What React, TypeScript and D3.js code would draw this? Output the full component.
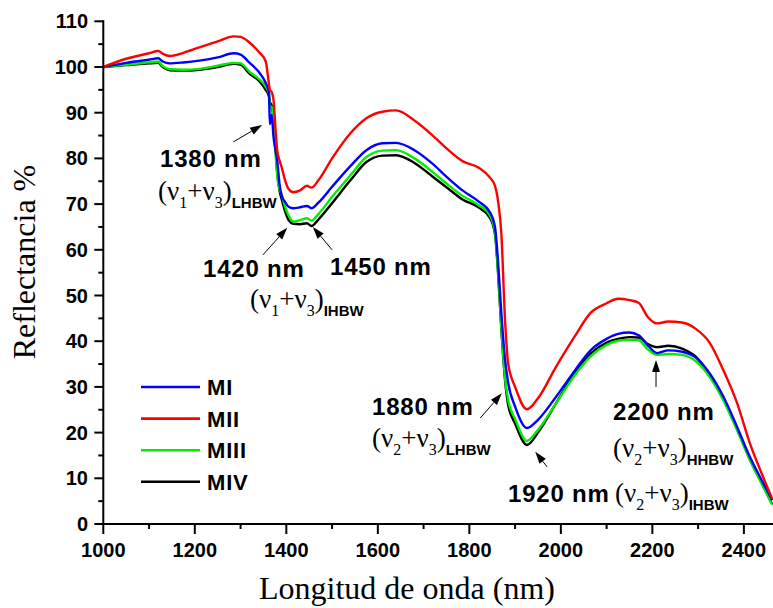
import React from "react";
import * as d3 from "d3";

const wavelengths = [1000, 1050, 1100, 1120, 1130, 1145, 1175, 1210, 1250, 1285, 1300, 1320, 1340, 1355, 1362, 1364, 1368, 1372, 1376, 1380, 1385, 1390, 1397, 1405, 1415, 1430, 1445, 1455, 1470, 1500, 1540, 1575, 1610, 1640, 1680, 1720, 1750, 1785, 1820, 1845, 1856, 1863, 1870, 1878, 1885, 1900, 1926, 1950, 1990, 2030, 2065, 2100, 2125, 2150, 2170, 2190, 2210, 2235, 2265, 2295, 2325, 2355, 2385, 2413, 2442, 2462];

const mI = [100, 100.9, 101.6, 101.9, 101.2, 100.8, 101.0, 101.4, 102.1, 103.0, 102.7, 100.9, 98.9, 96.5, 94.5, 87.5, 89.5, 84.7, 82, 79.6, 74.5, 71.8, 70.5, 69.4, 69.1, 69.3, 69.6, 69.1, 70.3, 73.8, 78.3, 81.8, 83.3, 83.4, 81.8, 78.8, 76.0, 73.0, 70.6, 68.2, 65, 57, 46, 36, 30.8, 25.7, 21.0, 22.8, 27.9, 33.5, 38.0, 40.5, 41.6, 41.9, 41.3, 39.1, 37.4, 38.0, 37.7, 36.4, 33.0, 27.9, 21.3, 14.7, 9.0, 5.2];

const mII = [100, 101.8, 103.0, 103.5, 102.9, 102.4, 103.1, 104.3, 105.6, 106.7, 106.6, 105.3, 103.3, 101.2, 96.3, 95.0, 94.5, 92.8, 87, 81.8, 79.6, 78, 75.3, 73.3, 72.6, 73.0, 74.0, 73.6, 75.2, 80.0, 85.5, 88.8, 90.2, 90.5, 88.3, 85.0, 82.2, 79.4, 78.0, 75.8, 74.0, 70.5, 63.5, 44.6, 35, 30, 25.1, 27.5, 34.5, 41, 46.2, 48.3, 49.3, 49.0, 48.4, 45.3, 43.9, 44.3, 44.1, 42.7, 39.7, 33.7, 26.5, 17.7, 10.3, 5.5];

const mIII = [100, 100.5, 101.0, 101.2, 100.2, 99.5, 99.4, 99.6, 100.3, 100.9, 100.8, 98.9, 97.4, 95.7, 94.3, 91, 91.3, 89, 82, 76.5, 73.3, 72, 69.5, 67.5, 66.2, 66.5, 66.9, 66.4, 67.8, 71.6, 76.3, 80.3, 81.7, 81.8, 80.0, 77.0, 74.5, 71.8, 69.8, 67.5, 64, 55, 43, 32, 27, 23, 18.2, 20.6, 26.5, 32.5, 36.7, 39.2, 40.1, 40.3, 40.2, 38.2, 37.0, 37.2, 37.0, 35.6, 32.2, 27.1, 20.6, 14.0, 8.2, 4.2];

const mIV = [100, 100.4, 100.8, 100.9, 100.0, 99.3, 99.2, 99.4, 100.0, 100.7, 100.5, 98.5, 97.0, 95.0, 93.6, 92.4, 91.5, 88.5, 83, 77, 73, 71, 68.5, 66.5, 65.7, 65.6, 65.8, 65.2, 66.6, 70.2, 75.2, 79.2, 80.6, 80.7, 79.0, 76.0, 73.7, 71.0, 69.3, 67.0, 63.5, 54.5, 42.5, 31.5, 26, 22, 17.3, 20.0, 26.5, 33, 37.3, 39.7, 40.5, 40.9, 40.8, 39.4, 38.7, 39.0, 38.4, 36.6, 32.6, 27.4, 20.8, 14.2, 8.4, 4.3];

const seriesNames = ["MI", "MII", "MIII", "MIV"];
const seriesColors = ["#0000ff", "#ff0000", "#00ee00", "#000000"];
const seriesValues = [mI, mII, mIII, mIV];
const drawOrder = [3, 2, 0, 1];

const xMajorTicks = [1000, 1200, 1400, 1600, 1800, 2000, 2200, 2400];
const xMinorTicks = [1100, 1300, 1500, 1700, 1900, 2100, 2300];
const yMajorTicks = [0, 10, 20, 30, 40, 50, 60, 70, 80, 90, 100, 110];
const yMinorTicks = [5, 15, 25, 35, 45, 55, 65, 75, 85, 95, 105];

// arrows: [nm, value]
const arrowTails = [[1284, 83.6], [1349, 58.9], [1500, 60.0], [1824, 23.2], [1970, 12.5], [2208, 30]];
const arrowTips = [[1347, 87.3], [1402, 64.8], [1458, 65.0], [1871, 28.6], [1944, 15.8], [2208, 35.9]];

const W = 773;
const H = 608;

const x = d3.scaleLinear().domain([1000, 2463]).range([103.3, 772.7]);
const y = d3.scaleLinear().domain([0, 110]).range([524, 21.3]);

const SANS = "'Liberation Sans', Arial, sans-serif";
const SERIF = "'Liberation Serif', 'Times New Roman', serif";

function Arrow({ tail, tip }: { tail: number[]; tip: number[] }) {
  const x0 = x(tail[0]), y0 = y(tail[1]);
  const x1 = x(tip[0]), y1 = y(tip[1]);
  const ang = Math.atan2(y1 - y0, x1 - x0);
  const L = 12, hw = 4;
  const bx = x1 - L * Math.cos(ang), by = y1 - L * Math.sin(ang);
  const px = -Math.sin(ang) * hw, py = Math.cos(ang) * hw;
  return (
    <g>
      <line x1={x0} y1={y0} x2={bx} y2={by} stroke="#000" strokeWidth={1} />
      <polygon points={`${x1},${y1} ${bx + px},${by + py} ${bx - px},${by - py}`} fill="#000" />
    </g>
  );
}

function NuLabel({ xp, yp, a, b, sub }: { xp: number; yp: number; a: string; b: string; sub: string }) {
  return (
    <text x={xp} y={yp} fontFamily={SERIF} fontSize={27} fill="#000">
      (ν
      <tspan fontSize={16} dy={8}>{a}</tspan>
      <tspan dy={-8}>+ν</tspan>
      <tspan fontSize={16} dy={8}>{b}</tspan>
      <tspan dy={-8}>)</tspan>
      <tspan dy={8} fontFamily={SANS} fontWeight="bold" fontSize={15}>{sub}</tspan>
    </text>
  );
}

function BoldLabel({ xp, yp, t }: { xp: number; yp: number; t: string }) {
  return (
    <text x={xp} y={yp} fontFamily={SANS} fontWeight="bold" fontSize={24} letterSpacing={0.8} fill="#000">{t}</text>
  );
}

export default function App() {
  const line = d3
    .line<number>()
    .x((_, i) => x(wavelengths[i]))
    .y((d) => y(d))
    .curve(d3.curveMonotoneX);

  return (
    <svg width={W} height={H} style={{ position: "absolute", left: 0, top: 0, background: "#fff" }}>
      <defs>
        <clipPath id="plotclip">
          <rect x={103} y={0} width={W - 103} height={526} />
        </clipPath>
      </defs>

      <g clipPath="url(#plotclip)">
        {drawOrder.map((i) => (
          <path key={i} d={line(seriesValues[i]) || ""} fill="none" stroke={seriesColors[i]} strokeWidth={2.4} strokeLinejoin="round" />
        ))}
      </g>

      <line x1={x(1000)} y1={y(0)} x2={W} y2={y(0)} stroke="#000" strokeWidth={2} />
      <line x1={x(1000)} y1={y(0) + 1} x2={x(1000)} y2={y(110) - 1} stroke="#000" strokeWidth={2} />
      {xMajorTicks.map((t) => (
        <g key={"xm" + t}>
          <line x1={x(t)} x2={x(t)} y1={y(0)} y2={y(0) + 10} stroke="#000" strokeWidth={2} />
          <text x={x(t)} y={557} textAnchor="middle" fontFamily={SANS} fontWeight="bold" fontSize={20}>{t}</text>
        </g>
      ))}
      {xMinorTicks.map((t) => (
        <line key={"xn" + t} x1={x(t)} x2={x(t)} y1={y(0)} y2={y(0) + 5} stroke="#000" strokeWidth={2} />
      ))}
      {yMajorTicks.map((t) => (
        <g key={"ym" + t}>
          <line x1={x(1000) - 9} x2={x(1000)} y1={y(t)} y2={y(t)} stroke="#000" strokeWidth={2} />
          <text x={88} y={y(t) + 7} textAnchor="end" fontFamily={SANS} fontWeight="bold" fontSize={20}>{t}</text>
        </g>
      ))}
      {yMinorTicks.map((t) => (
        <line key={"yn" + t} x1={x(1000) - 5} x2={x(1000)} y1={y(t)} y2={y(t)} stroke="#000" strokeWidth={2} />
      ))}

      <text x={407} y={599} textAnchor="middle" fontFamily={SERIF} fontSize={32}>Longitud de onda (nm)</text>
      <text transform="translate(35,262) rotate(-90)" textAnchor="middle" fontFamily={SERIF} fontSize={32}>Reflectancia %</text>

      {seriesNames.map((n, i) => (
        <g key={n}>
          <line x1={141} x2={200} y1={387 + i * 31.6} y2={387 + i * 31.6} stroke={seriesColors[i]} strokeWidth={2.6} />
          <text x={207} y={387 + i * 31.6 + 8} fontFamily={SANS} fontWeight="bold" fontSize={22} letterSpacing={0.8}>{n}</text>
        </g>
      ))}

      {arrowTails.map((t, i) => (
        <Arrow key={"a" + i} tail={t} tip={arrowTips[i]} />
      ))}
      <BoldLabel xp={160} yp={167} t="1380 nm" />
      <NuLabel xp={158} yp={200} a="1" b="3" sub="LHBW" />
      <BoldLabel xp={203} yp={277} t="1420 nm" />
      <BoldLabel xp={330} yp={275} t="1450 nm" />
      <NuLabel xp={250} yp={308} a="1" b="3" sub="IHBW" />
      <BoldLabel xp={372} yp={415} t="1880 nm" />
      <NuLabel xp={372} yp={447} a="2" b="3" sub="LHBW" />
      <BoldLabel xp={613} yp={420} t="2200 nm" />
      <NuLabel xp={613} yp={457} a="2" b="3" sub="HHBW" />
      <BoldLabel xp={508} yp={502} t="1920 nm" />
      <NuLabel xp={615} yp={502} a="2" b="3" sub="IHBW" />
    </svg>
  );
}
